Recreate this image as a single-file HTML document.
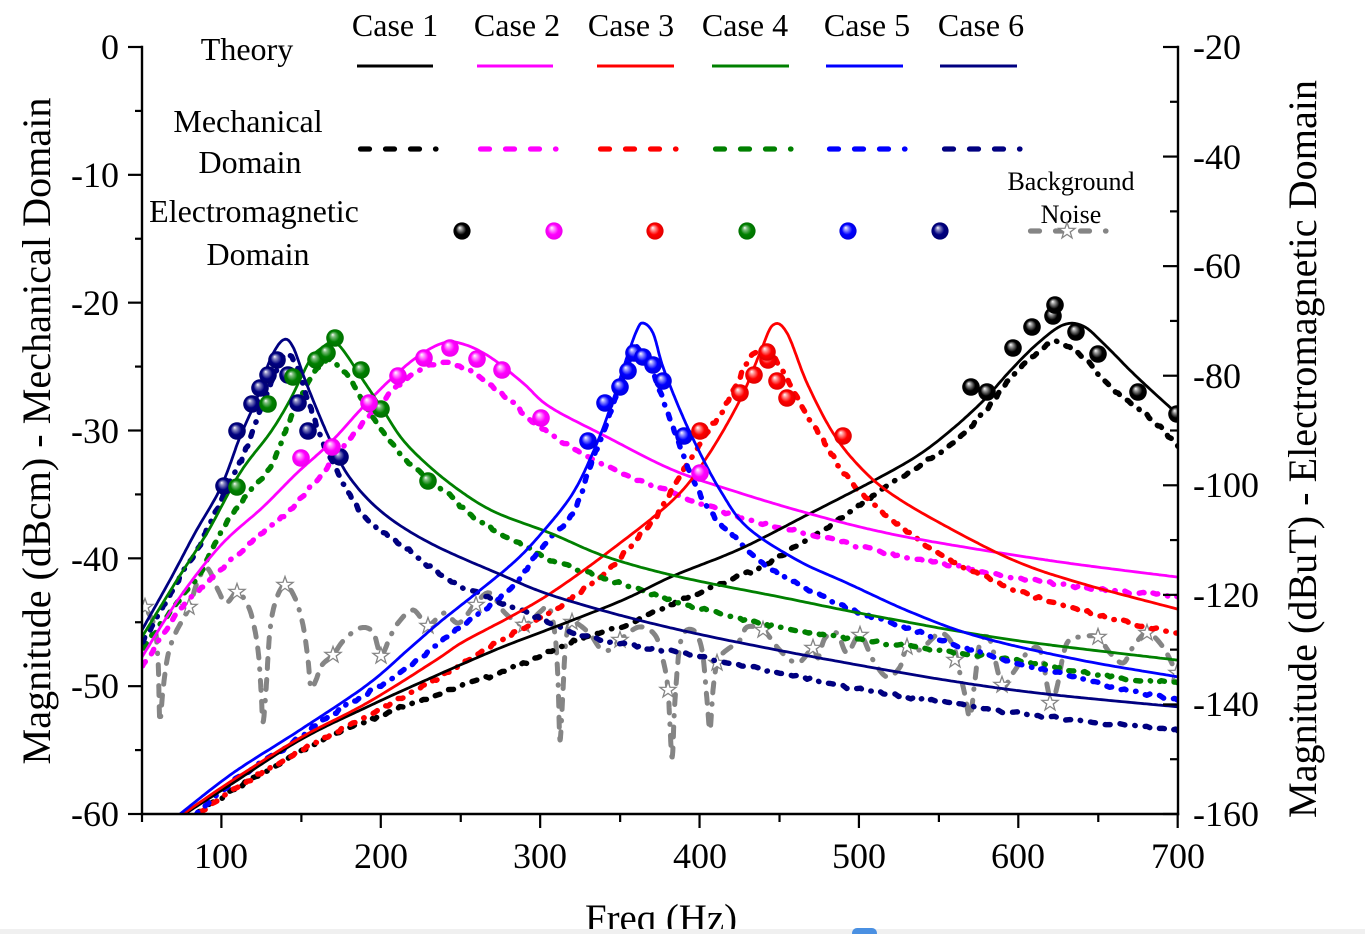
<!DOCTYPE html>
<html>
<head>
<meta charset="utf-8">
<style>
html,body{margin:0;padding:0;background:#fff;overflow:hidden;}
svg{display:block;}
text{font-family:"Liberation Serif","Times New Roman",serif;fill:#000;}
</style>
</head>
<body>
<svg id="s" width="1365" height="934" viewBox="0 0 1365 934" xmlns="http://www.w3.org/2000/svg">
<defs>
  <clipPath id="clip"><rect x="143" y="0" width="1034" height="813"/></clipPath>
  <radialGradient id="gK" cx="0.5" cy="0.5" r="0.5" fx="0.36" fy="0.3"><stop offset="0" stop-color="#ffffff"/><stop offset="0.22" stop-color="#9a9a9a"/><stop offset="0.6" stop-color="#000000"/><stop offset="1" stop-color="#000000"/></radialGradient>
  <radialGradient id="gM" cx="0.5" cy="0.5" r="0.5" fx="0.36" fy="0.3"><stop offset="0" stop-color="#ffffff"/><stop offset="0.22" stop-color="#ff9cff"/><stop offset="0.6" stop-color="#ff00ff"/><stop offset="1" stop-color="#ee00ee"/></radialGradient>
  <radialGradient id="gR" cx="0.5" cy="0.5" r="0.5" fx="0.36" fy="0.3"><stop offset="0" stop-color="#ffffff"/><stop offset="0.22" stop-color="#ff9a9a"/><stop offset="0.6" stop-color="#ff0000"/><stop offset="1" stop-color="#e00000"/></radialGradient>
  <radialGradient id="gG" cx="0.5" cy="0.5" r="0.5" fx="0.36" fy="0.3"><stop offset="0" stop-color="#ffffff"/><stop offset="0.22" stop-color="#7fbf7f"/><stop offset="0.6" stop-color="#008000"/><stop offset="1" stop-color="#007000"/></radialGradient>
  <radialGradient id="gB" cx="0.5" cy="0.5" r="0.5" fx="0.36" fy="0.3"><stop offset="0" stop-color="#ffffff"/><stop offset="0.22" stop-color="#9a9aff"/><stop offset="0.6" stop-color="#0000ff"/><stop offset="1" stop-color="#0000e0"/></radialGradient>
  <radialGradient id="gN" cx="0.5" cy="0.5" r="0.5" fx="0.36" fy="0.3"><stop offset="0" stop-color="#ffffff"/><stop offset="0.22" stop-color="#8a8ac4"/><stop offset="0.6" stop-color="#000080"/><stop offset="1" stop-color="#000070"/></radialGradient>
</defs>

<g id="plot" clip-path="url(#clip)"></g>

<g stroke="#000" stroke-width="2.4" fill="none" stroke-linecap="square">
  <line x1="142" y1="47" x2="142" y2="814"/>
  <line x1="1178" y1="47" x2="1178" y2="814"/>
  <line x1="142" y1="814" x2="1178" y2="814"/>
</g>
<g id="ticks" stroke="#000" stroke-width="2.2"></g>

<g font-size="36" text-anchor="end">
  <text x="119" y="59">0</text>
  <text x="119" y="187">-10</text>
  <text x="119" y="315">-20</text>
  <text x="119" y="443">-30</text>
  <text x="119" y="571">-40</text>
  <text x="119" y="698">-50</text>
  <text x="119" y="826">-60</text>
</g>
<g font-size="36" text-anchor="start">
  <text x="1193" y="59">-20</text>
  <text x="1193" y="169">-40</text>
  <text x="1193" y="278">-60</text>
  <text x="1193" y="388">-80</text>
  <text x="1193" y="497">-100</text>
  <text x="1193" y="607">-120</text>
  <text x="1193" y="716">-140</text>
  <text x="1193" y="826">-160</text>
</g>
<g font-size="36" text-anchor="middle">
  <text x="221" y="868">100</text>
  <text x="381" y="868">200</text>
  <text x="540" y="868">300</text>
  <text x="700" y="868">400</text>
  <text x="859" y="868">500</text>
  <text x="1018" y="868">600</text>
  <text x="1178" y="868">700</text>
</g>

<text transform="translate(50,431) rotate(-90)" text-anchor="middle" font-size="40" textLength="667" lengthAdjust="spacingAndGlyphs">Magnitude (dBcm) - Mechanical Domain</text>
<text transform="translate(1316,449) rotate(-90)" text-anchor="middle" font-size="40" textLength="738" lengthAdjust="spacingAndGlyphs">Magnitude (dBuT) - Electromagnetic Domain</text>
<text x="661" y="931" text-anchor="middle" font-size="39" textLength="152" lengthAdjust="spacingAndGlyphs">Freq (Hz)</text>

<g font-size="32" text-anchor="middle">
  <text x="247" y="60">Theory</text>
  <text x="248" y="132">Mechanical</text>
  <text x="250" y="173">Domain</text>
  <text x="254" y="222">Electromagnetic</text>
  <text x="258" y="265">Domain</text>
  <text x="395" y="36">Case 1</text>
  <text x="517" y="36">Case 2</text>
  <text x="631" y="36">Case 3</text>
  <text x="745" y="36">Case 4</text>
  <text x="867" y="36">Case 5</text>
  <text x="981" y="36">Case 6</text>
</g>
<g font-size="26" text-anchor="middle">
  <text x="1071" y="190">Background</text>
  <text x="1071" y="223">Noise</text>
</g>
<g id="legend"></g>

<rect x="0" y="929" width="1365" height="5" fill="#f0f0f0"/>
<rect x="852" y="928" width="25" height="10" rx="5" fill="#4a90e2"/>
</svg>

<script>
(function(){
var NS='http://www.w3.org/2000/svg';
var plot=document.getElementById('plot');
var legend=document.getElementById('legend');
var ticks=document.getElementById('ticks');
var seed=12345;
function rnd(){seed=(seed*16807)%2147483647;return seed/2147483647;}
function el(tag,a,p){var e=document.createElementNS(NS,tag);for(var k in a)e.setAttribute(k,a[k]);p.appendChild(e);return e;}
function cr(pts,step){
  var out=[];
  for(var i=0;i<pts.length-1;i++){
    var p0=pts[i-1]||pts[i],p1=pts[i],p2=pts[i+1],p3=pts[i+2]||pts[i+1];
    var c1=[p1[0]+(p2[0]-p0[0])/6,p1[1]+(p2[1]-p0[1])/6];
    var c2=[p2[0]-(p3[0]-p1[0])/6,p2[1]-(p3[1]-p1[1])/6];
    var n=Math.max(2,Math.ceil(Math.hypot(p2[0]-p1[0],p2[1]-p1[1])/step));
    for(var k=(i==0?0:1);k<=n;k++){
      var t=k/n,u=1-t;
      out.push([u*u*u*p1[0]+3*u*u*t*c1[0]+3*u*t*t*c2[0]+t*t*t*p2[0],
                u*u*u*p1[1]+3*u*u*t*c1[1]+3*u*t*t*c2[1]+t*t*t*p2[1]]);
    }
  }
  return out;
}
function dstr(p){var s='M'+p[0][0].toFixed(1)+' '+p[0][1].toFixed(1);for(var i=1;i<p.length;i++)s+='L'+p[i][0].toFixed(1)+' '+p[i][1].toFixed(1);return s;}

function tl(x1,y1,x2,y2){el('line',{x1:x1,y1:y1,x2:x2,y2:y2},ticks);}
for(var k=0;k<=6;k++){var y=47+k*767/6;tl(128,y,142,y);if(k<6){var ym=y+767/12;tl(135,ym,142,ym);}}
for(var k=0;k<=7;k++){var y=47+k*767/7;tl(1163,y,1178,y);if(k<7){var ym=y+767/14;tl(1170,ym,1178,ym);}}
for(var k=0;k<=6;k++){var x=221.4+k*159.38;tl(x,814,x,828);}
for(var k=0;k<=6;k++){var x=142+k*159.38;tl(x,814,x,822);}

var C={K:'#000000',M:'#ff00ff',R:'#ff0000',G:'#008000',B:'#0000ff',N:'#000080'};

var theory={
 N:[[130,652],[142,630],[170,580],[195,533],[221,487],[240,437],[257,398],[270,360],[283,340],[293,347],[307,385],[330,440],[350,478],[383,513],[430,543],[497,573],[560,598],[680,630],[847,663],[1013,690],[1190,708]],
 G:[[135,648],[142,637],[177,580],[207,533],[240,473],[270,433],[290,400],[310,360],[323,347],[333,342],[343,350],[363,380],[383,410],[403,440],[430,467],[463,493],[497,513],[550,533],[607,557],[680,577],[780,597],[880,617],[1013,640],[1185,661]],
 M:[[135,668],[142,657],[180,597],[221,545],[263,507],[297,473],[330,443],[363,407],[390,380],[417,357],[443,343],[463,344],[490,357],[523,383],[550,407],[607,437],[673,470],[740,493],[807,513],[873,530],[940,543],[1060,562],[1185,578]],
 B:[[165,826],[180,814],[233,773],[300,730],[367,685],[410,648],[440,622],[474,595],[513,563],[540,535],[573,493],[597,443],[613,400],[627,357],[637,330],[643,323],[653,333],[663,367],[680,410],[697,447],[720,490],[747,527],[797,560],[847,583],[913,613],[980,637],[1080,660],[1185,678]],
 R:[[172,822],[183,814],[233,780],[300,738],[367,703],[433,662],[463,642],[510,617],[551,593],[607,553],[673,500],[707,457],[740,400],[760,353],[773,325],[787,333],[807,383],[833,433],[860,467],[890,493],[940,523],[1013,560],[1080,583],[1185,611]],
 K:[[176,822],[185,814],[233,783],[300,740],[367,707],[433,677],[500,648],[560,625],[623,600],[673,576],[740,549],[807,515],[873,481],[917,456],[950,431],[983,401],[1010,371],[1037,344],[1063,325],[1083,326],[1103,343],[1137,377],[1185,421]]
};
var mech={
 N:[[135,655],[142,643],[160,613],[180,577],[197,550],[213,517],[227,487],[240,463],[253,430],[263,403],[277,370],[288,354],[300,375],[310,407],[323,443],[337,470],[350,495],[363,515],[380,530],[398,542],[430,567],[463,587],[513,607],[551,623],[589,637],[628,645],[680,653],[780,673],[847,687],[947,703],[1047,717],[1185,731]],
 G:[[135,660],[142,650],[170,612],[197,578],[217,540],[240,503],[270,467],[290,420],[310,380],[327,360],[340,368],[350,380],[363,400],[377,423],[397,450],[417,470],[447,493],[477,520],[513,540],[550,560],[590,573],[640,590],[680,603],[747,620],[813,633],[913,647],[1013,660],[1113,677],[1185,684]],
 M:[[135,677],[142,667],[180,610],[207,583],[237,555],[263,533],[290,510],[317,480],[343,447],[363,423],[383,400],[410,377],[437,363],[463,367],[483,380],[510,400],[540,427],[607,467],[673,493],[740,517],[807,533],[873,550],[940,563],[1013,577],[1080,587],[1185,597]],
 B:[[185,826],[197,813],[233,782],[283,749],[333,714],[400,673],[443,640],[490,605],[520,578],[540,549],[573,513],[590,467],[607,423],[623,377],[637,347],[653,373],[667,410],[680,447],[697,488],[713,515],[733,535],[753,555],[780,574],[847,608],[913,630],[980,653],[1047,670],[1113,687],[1185,701]],
 R:[[190,822],[200,813],[233,790],[300,751],[367,716],[433,681],[493,645],[551,612],[608,570],[640,535],[657,515],[673,488],[690,460],[707,433],[723,410],[740,377],[753,355],[767,350],[780,367],[797,397],[810,420],[823,440],[840,467],[860,492],[890,518],[913,535],[947,558],[1013,589],[1080,610],[1147,627],[1185,636]],
 K:[[188,822],[197,814],[233,790],[283,762],[333,735],[400,708],[467,684],[513,668],[570,643],[628,624],[680,601],[730,580],[770,562],[840,519],[870,498],[917,467],[950,446],[983,414],[1000,391],[1017,371],[1037,353],[1053,342],[1070,347],[1090,363],[1110,387],[1137,407],[1163,430],[1185,455]]
};
var balls={
 N:[[224,486],[237,431],[252,404],[260,388],[268,375],[277,360],[288,375],[298,403],[308,431],[340,457]],
 G:[[237,487],[268,404],[293,377],[316,360],[327,353],[335,338],[361,370],[381,409],[428,481]],
 M:[[301,458],[332,447],[369,403],[398,376],[424,358],[450,348],[477,359],[502,370],[541,418],[700,473]],
 B:[[588,441],[605,403],[620,387],[628,371],[634,353],[643,357],[653,365],[663,381],[684,436]],
 R:[[700,431],[740,393],[754,375],[768,360],[767,352],[777,381],[787,398],[843,436]],
 K:[[971,387],[987,392],[1013,348],[1032,327],[1053,316],[1055,305],[1076,332],[1098,354],[1138,392],[1177,414]]
};
var noise=[[136,596],[142,602],[148,612],[155,628],[158,660],[159,695],[160,722],[163,690],[168,655],[176,632],[189,608],[197,583],[207,568],[218,590],[226,603],[237,592],[245,600],[252,617],[258,650],[261,690],[263,722],[266,690],[270,630],[276,600],[285,585],[295,598],[303,625],[308,660],[311,688],[316,680],[322,665],[333,655],[344,640],[360,628],[373,632],[381,655],[390,637],[398,623],[413,610],[428,625],[444,613],[459,623],[476,603],[490,593],[505,613],[524,625],[540,612],[549,607],[555,635],[558,680],[560,740],[563,690],[566,640],[572,622],[589,633],[600,648],[610,650],[620,640],[639,627],[655,635],[663,660],[668,690],[672,757],[675,700],[681,640],[693,630],[702,650],[707,700],[710,730],[713,690],[717,663],[723,653],[740,640],[747,627],[763,630],[777,647],[790,660],[800,662],[813,648],[818,658],[825,638],[837,633],[847,653],[860,635],[873,660],[887,677],[900,667],[907,647],[920,650],[940,633],[953,645],[958,665],[965,695],[970,717],[975,680],[980,643],[990,640],[1002,685],[1013,673],[1027,653],[1040,650],[1048,690],[1052,703],[1057,687],[1067,643],[1083,637],[1098,637],[1110,653],[1123,663],[1133,647],[1147,633],[1163,647],[1177,673],[1190,690]];
var stars=[[145,607],[189,607],[237,592],[285,585],[333,655],[381,656],[428,626],[476,605],[524,625],[572,622],[620,640],[668,690],[717,663],[763,630],[813,648],[860,635],[907,647],[955,660],[1002,685],[1050,703],[1098,637],[1147,633],[1177,673]];
var starD='M0,-8.5L2,-2.75L8.08,-2.63L3.23,1.05L5,6.88L0,3.4L-5,6.88L-3.23,1.05L-8.08,-2.63L-2,-2.75Z';

el('path',{d:dstr(cr(noise,3)),fill:'none',stroke:'#858585','stroke-width':5,'stroke-linecap':'round','stroke-linejoin':'round','stroke-dasharray':'10 11 10 11 10 11 0.5 11'},plot);
stars.forEach(function(p){el('path',{d:starD,transform:'translate('+p[0]+','+p[1]+')',fill:'#fff',stroke:'#858585','stroke-width':1.3},plot);});

['K','M','R','G','B','N'].forEach(function(c){
  var pts=cr(mech[c],4).map(function(p){return [p[0]+(rnd()-0.5)*0.8,p[1]+(rnd()-0.5)*3.0];});
  el('path',{d:dstr(pts),fill:'none',stroke:C[c],'stroke-width':5.4,'stroke-linecap':'round','stroke-linejoin':'round','stroke-dasharray':'5 10 5 10 5 10 0.5 10'},plot);
});
['K','M','R','G','B','N'].forEach(function(c){
  el('path',{d:dstr(cr(theory[c],3)),fill:'none',stroke:C[c],'stroke-width':2.8,'stroke-linejoin':'round'},plot);
});
['N','G','M','B','R','K'].forEach(function(c){
  balls[c].forEach(function(p){el('circle',{cx:p[0],cy:p[1],r:8.8,fill:'url(#g'+c+')'},plot);});
});

var order=['K','M','R','G','B','N'];
var solidX=[[357,433],[477,553],[597,674],[712,789],[826,903],[940,1017]];
var dashX=[360.5,480.5,600.5,715.5,829.5,944.5];
var ballX=[462,554,655,747,848,940];
order.forEach(function(c,i){
  el('line',{x1:solidX[i][0],y1:66,x2:solidX[i][1],y2:66,stroke:C[c],'stroke-width':3},legend);
  el('line',{x1:dashX[i],y1:149,x2:dashX[i]+76,y2:149,stroke:C[c],'stroke-width':5.2,'stroke-linecap':'round','stroke-dasharray':'9 16 9 16 9 16 0.5 16'},legend);
  el('circle',{cx:ballX[i],cy:231,r:8.6,fill:'url(#g'+c+')'},legend);
});
el('line',{x1:1030.5,y1:231,x2:1106,y2:231,stroke:'#858585','stroke-width':5.2,'stroke-linecap':'round','stroke-dasharray':'9 16 9 16 9 16 0.5 16'},legend);
el('path',{d:starD,transform:'translate(1067,231)',fill:'#fff',stroke:'#858585','stroke-width':1.3},legend);
})();
</script>
</body>
</html>
